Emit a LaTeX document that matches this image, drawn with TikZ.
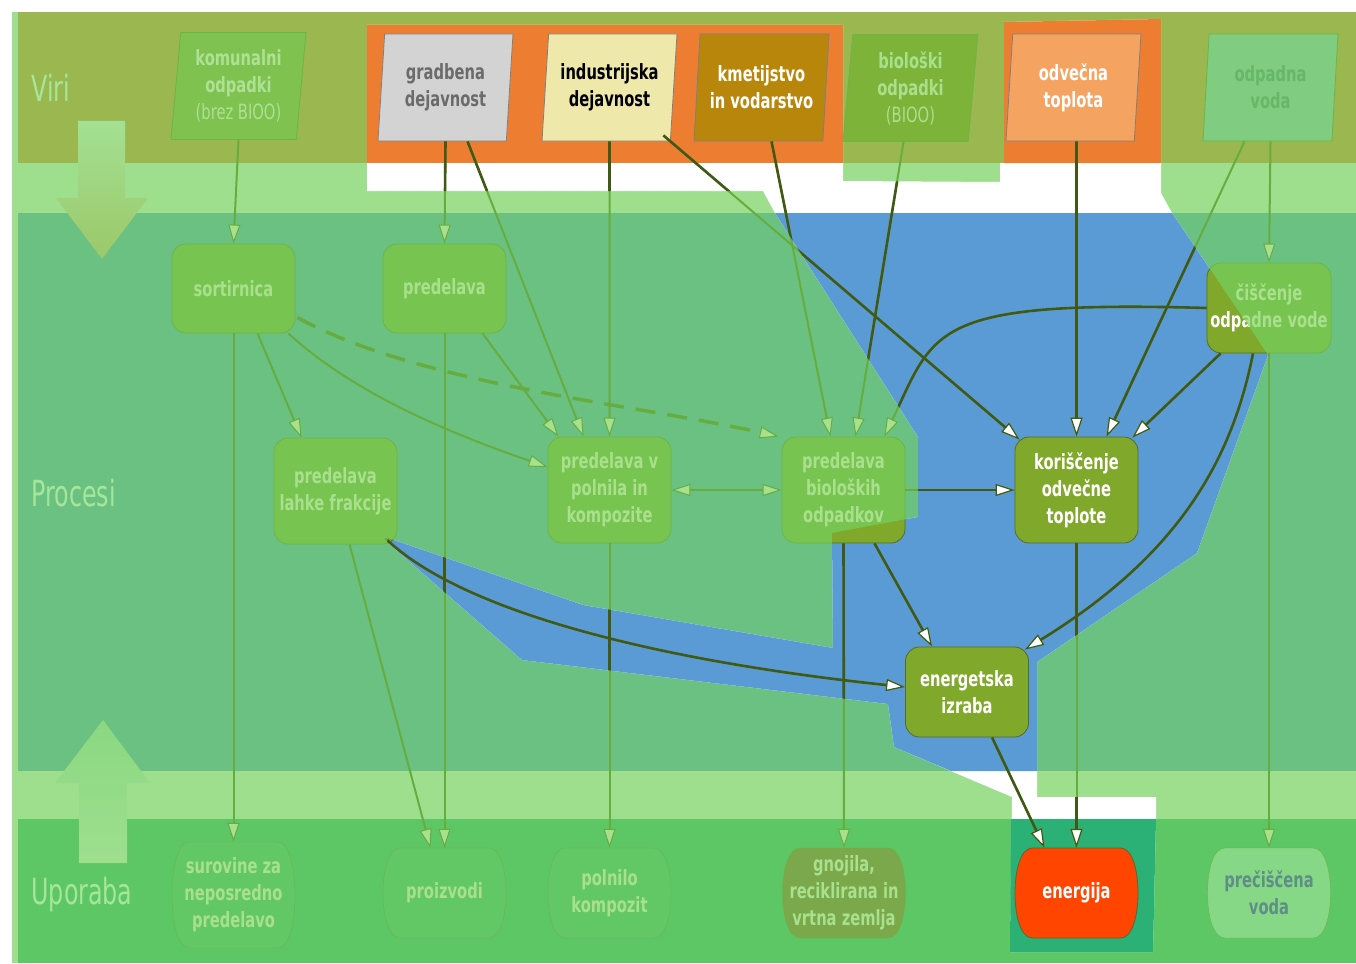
\documentclass[tikz,border=0pt]{standalone}
\usepackage{fontspec}
\setmainfont{DejaVu Sans}[FakeStretch=0.7]
\newfontfamily\bandfont{DejaVu Sans}[FakeStretch=0.66]
\usetikzlibrary{arrows.meta,shapes.geometric,calc}

\definecolor{viriband}{HTML}{9AB84F}
\definecolor{lightband}{HTML}{9EDF8E}
\definecolor{procband}{HTML}{6AC182}
\definecolor{useband}{HTML}{5DC665}
\definecolor{hlorange}{HTML}{ED7D31}
\definecolor{hlblue}{HTML}{5B9BD5}
\definecolor{hlteal}{HTML}{2BB075}
\definecolor{paletext}{HTML}{A9E08D}
\definecolor{procfill}{HTML}{78C450}
\definecolor{procline}{HTML}{6DB547}
\definecolor{darkfill}{HTML}{80A82A}
\definecolor{darkline}{HTML}{556B2F}
\definecolor{linepale}{HTML}{66AD40}
\definecolor{linedark}{HTML}{405A16}
\definecolor{usefill}{HTML}{62C866}
\definecolor{labelgreen}{HTML}{A6E69A}
\definecolor{grayfill}{HTML}{D3D3D3}
\definecolor{goldpale}{HTML}{EEE8AA}
\definecolor{golddark}{HTML}{B8860B}
\definecolor{sandy}{HTML}{F4A460}
\definecolor{waterfill}{HTML}{80CC80}
\definecolor{watertext}{HTML}{66B866}
\definecolor{cleanfill}{HTML}{86D886}
\definecolor{cleantext}{HTML}{5E8F87}
\definecolor{energyfill}{HTML}{FF4500}
\definecolor{soilfill}{HTML}{7AA84A}

% outline of the highlighted (energy) path
\newcommand\hlpath{(367,25) -- (843,25) -- (843,181) -- (1000,182) -- (1000,163)
  -- (1004,163) -- (1004,22) -- (1161,19) -- (1161,193) -- (1172,213) -- (1268,355)
  -- (1197,553) -- (1037,662) -- (1037,797) -- (1156,797) -- (1156,819) -- (1153,952)
  -- (1010,952) -- (1012,797) -- (894,747) -- (888,704) -- (522,660) -- (387,542)
  -- (388,538) -- (583,605) -- (833,648) -- (832,533) -- (918,517) -- (918,437)
  -- (775,213) -- (763,191) -- (367,191) -- cycle}

% barrel outline of a use node: x, y, height, style
\newcommand\usebarrel[4]{%
  \path[#4] ({#1-44},{#2-#3/2}) -- ({#1+44},{#2-#3/2})
    .. controls ({#1+56},{#2-#3/2}) and ({#1+61.5},{#2-#3/4}) .. ({#1+61.5},#2)
    .. controls ({#1+61.5},{#2+#3/4}) and ({#1+56},{#2+#3/2}) .. ({#1+44},{#2+#3/2})
    -- ({#1-44},{#2+#3/2})
    .. controls ({#1-56},{#2+#3/2}) and ({#1-61.5},{#2+#3/4}) .. ({#1-61.5},#2)
    .. controls ({#1-61.5},{#2-#3/4}) and ({#1-56},{#2-#3/2}) .. ({#1-44},{#2-#3/2}) -- cycle;}

% all connectors, drawn once pale and once dark
\newcommand\flows[1]{%
  \draw[#1,->] (kom.south) -- (sort.north);
  \draw[#1,->] (grad.south) -- (pred.north);
  \draw[#1,->] ($(grad.south)+(22,0)$) -- ($(poln.north)+(-26,0)$);
  \draw[#1,->] (ind.south) -- (poln.north);
  \draw[#1,->] ($(ind.south east)+(0,-6)$) -- ($(kor.north west)+(5,3)$);
  \draw[#1,->] ($(kmet.south)+(10,0)$) -- ($(biol.north)+(-13,0)$);
  \draw[#1,->] ($(bio.south)+(-7,0)$) -- ($(biol.north)+(12,0)$);
  \draw[#1,->] ($(odv.south)+(3,0)$) -- (kor.north);
  \draw[#1,->] ($(voda.south)+(-26,0)$) -- ($(kor.north)+(30,0)$);
  \draw[#1,->] (voda.south) -- (cis.north);
  \draw[#1,->] (cis.west) .. controls (930,300) and (935,330) .. ($(biol.north east)+(-21,0)$);
  \draw[#1,->] ($(cis.south west)+(14,0)$) -- ($(kor.north east)+(-6,1)$);
  \draw[#1,->] ($(cis.south)+(-16,0)$) .. controls (1230,470) and (1170,560) .. ($(ener.north east)+(-4,3)$);
  \draw[#1,->] ($(sort.south)+(24,0)$) -- ($(lahk.north)+(-34,0)$);
  \draw[#1,->] ($(sort.south east)+(-7,0)$) .. controls (350,390) and (440,430) .. ($(poln.west)+(0,-23)$);
  \draw[#1,->] (sort.south) -- (sur.north);
  \draw[#1,->] (pred.south) -- (proi.north);
  \draw[#1,->] ($(pred.south)+(38,0)$) -- ($(poln.north)+(-51,0)$);
  \draw[#1,->] ($(lahk.south)+(14,0)$) -- ($(proi.north)+(-14,0)$);
  \draw[#1,->] ($(lahk.south east)+(-12,-6)$) .. controls (460,610) and (650,660) .. ($(ener.west)+(0,-5)$);
  \draw[#1,->] (poln.south) -- (polk.north);
  \draw[#1,<->] (poln.east) -- (biol.west);
  \draw[#1,->] (biol.east) -- (kor.west);
  \draw[#1,->] (biol.south) -- (gnoj.north);
  \draw[#1,->] ($(biol.south)+(31,0)$) -- ($(ener.north)+(-35,0)$);
  \draw[#1,->] (kor.south) -- (enj.north);
  \draw[#1,->] ($(ener.south)+(25,0)$) -- ($(enj.north)+(-32,0)$);
  \draw[#1,->] (cis.south) -- (prec.north);}

\begin{document}
\begin{tikzpicture}[x=1pt,y=-1pt,
  txt/.style={align=center,font=\bfseries\fontsize{21}{27}\selectfont},
  proc/.style={txt,rectangle,rounded corners=14pt,minimum width=123pt,minimum height=89pt,line width=0.8pt},
  procpale/.style={proc,fill=procfill,draw=procline,text=paletext},
  procdark/.style={proc,fill=darkfill,draw=darkline,text=white},
  src/.style={txt,trapezium,trapezium left angle=83,trapezium right angle=97,
    trapezium stretches body=true,minimum width=135pt,minimum height=107pt,line width=0.8pt},
  usebox/.style={txt,rectangle,minimum width=123pt,minimum height=90pt},
  bandlabel/.style={anchor=west,text=labelgreen,font=\bandfont\fontsize{36}{36}\selectfont},
  flowpale/.style={draw=linepale,line width=2pt,
    >={Triangle[length=19pt,width=12pt,fill=paletext,line width=1pt]}},
  flowdark/.style={draw=linedark,line width=2.6pt,
    >={Triangle[length=19pt,width=12pt,fill=white,line width=1.2pt]}}]
\useasboundingbox (0,0) rectangle (1356,963);

% bands
\fill[lightband] (12,12) rectangle (18,963);
\fill[viriband] (18,12) rectangle (1356,163);
\fill[lightband] (18,163) rectangle (1356,213);
\fill[procband] (18,213) rectangle (1356,771);
\fill[lightband] (18,771) rectangle (1356,819);
\fill[useband] (18,819) rectangle (1356,963);

% highlighted path
\fill[white] \hlpath;
\fill[hlorange] (367,25) rectangle (843,163);
\fill[hlorange] (1004,22) -- (1161,19) -- (1161,163) -- (1004,163) -- cycle;
\fill[hlblue] (775,213) -- (1172,213) -- (1268,355) -- (1197,553) -- (1037,662)
  -- (1037,771) -- (951,771) -- (894,747) -- (888,704) -- (522,660) -- (387,542)
  -- (388,538) -- (583,605) -- (833,648) -- (832,533) -- (918,517) -- (918,437) -- cycle;
\fill[hlteal] (1011,819) -- (1156,819) -- (1153,952) -- (1010,952) -- cycle;

% big arrows
\shade[top color=lightband!95!white,bottom color=viriband!60!lightband]
  (78,121) -- (125,121) -- (125,198) -- (148,198) -- (102,259) -- (56,198) -- (78,198) -- cycle;
\shade[top color=lightband!70!useband,bottom color=lightband]
  (103,720) -- (150,783) -- (127,783) -- (127,863) -- (79,863) -- (79,783) -- (55,783) -- cycle;

\node[bandlabel] (viri) at (28,88) {Viri};
\node[bandlabel] (procesi) at (28,493) {Procesi};
\node[bandlabel] (uporaba) at (28,895) {Uporaba};

% sources
\node[src,fill=procfill!80!viriband,draw=procline,text=paletext!95!white] (kom) at (238.5,86) {komunalni\\odpadki\\{\mdseries(brez BIOO)}};
\node[src,fill=grayfill,draw=black!50,text=black!58] (grad) at (445.5,87.5) {gradbena\\dejavnost};
\node[src,fill=goldpale,draw=black!50,text=black] (ind) at (609.5,87.5) {industrijska\\dejavnost};
\node[src,fill=golddark,draw=black!50,text=white] (kmet) at (761.5,87.5) {kmetijstvo\\in vodarstvo};
\node[src,fill=darkfill!60!procfill,draw=procline,text=paletext] (bio) at (910.5,88) {biološki\\odpadki\\{\mdseries(BIOO)}};
\node[src,fill=sandy,draw=black!50,text=white] (odv) at (1073.5,87.5) {odvečna\\toplota};
\node[src,fill=waterfill,draw=procline,text=watertext] (voda) at (1270.5,87.5) {odpadna\\voda};

% processes
\node[procpale] (sort) at (233.5,288.5) {sortirnica};
\node[procpale] (pred) at (444.5,288.5) {predelava};
\node[procpale,minimum height=106pt] (lahk) at (335.5,491) {predelava\\lahke frakcije};
\node[procpale,minimum height=106pt] (poln) at (609.5,490) {predelava v\\polnila in\\kompozite};
\node[procpale,minimum height=106pt] (biol) at (843.5,490) {predelava\\bioloških\\odpadkov};
\node[procdark,minimum height=106pt] (kor) at (1076.5,490) {koriščenje\\odvečne\\toplote};
\node[procpale,minimum height=90pt] (cis) at (1269,308) {čiščenje\\odpadne vode};
\node[procdark,minimum height=90pt] (ener) at (967,692) {energetska\\izraba};

% uses
\usebarrel{233.5}{895}{106}{fill=usefill,draw=procline}
\usebarrel{444.5}{893}{90}{fill=usefill,draw=procline}
\usebarrel{609.5}{893}{90}{fill=usefill,draw=procline}
\usebarrel{844}{893}{90}{fill=soilfill,draw=procline}
\usebarrel{1076.5}{893}{90}{fill=energyfill,draw=darkline,line width=0.8pt}
\usebarrel{1269}{893}{90}{fill=cleanfill,draw=procline}
\node[usebox,minimum height=106pt,text=paletext] (sur) at (233.5,895) {surovine za\\neposredno\\predelavo};
\node[usebox,text=paletext] (proi) at (444.5,893) {proizvodi};
\node[usebox,text=paletext] (polk) at (609.5,893) {polnilo\\kompozit};
\node[usebox,text=paletext] (gnoj) at (844,893) {gnojila,\\reciklirana in\\vrtna zemlja};
\node[usebox,text=white] (enj) at (1076.5,893) {energija};
\node[usebox,text=cleantext] (prec) at (1269,893) {prečiščena\\voda};

\flows{flowpale}
\draw[flowpale,->,line width=3.5pt,dash pattern=on 20pt off 12pt]
  ($(sort.east)+(2,29)$) .. controls (420,385) and (640,405) .. ($(biol.north west)+(-3,0)$);

% dark part inside the highlighted path
\begin{scope}
\clip \hlpath;
\node[procdark,minimum height=106pt] (lahkD) at (335.5,491) {predelava\\lahke frakcije};
\node[procdark,minimum height=106pt] (biolD) at (843.5,490) {predelava\\bioloških\\odpadkov};
\node[procdark,minimum height=90pt] (cisD) at (1269,308) {čiščenje\\odpadne vode};
\flows{flowdark}
\end{scope}
\end{tikzpicture}
\end{document}
